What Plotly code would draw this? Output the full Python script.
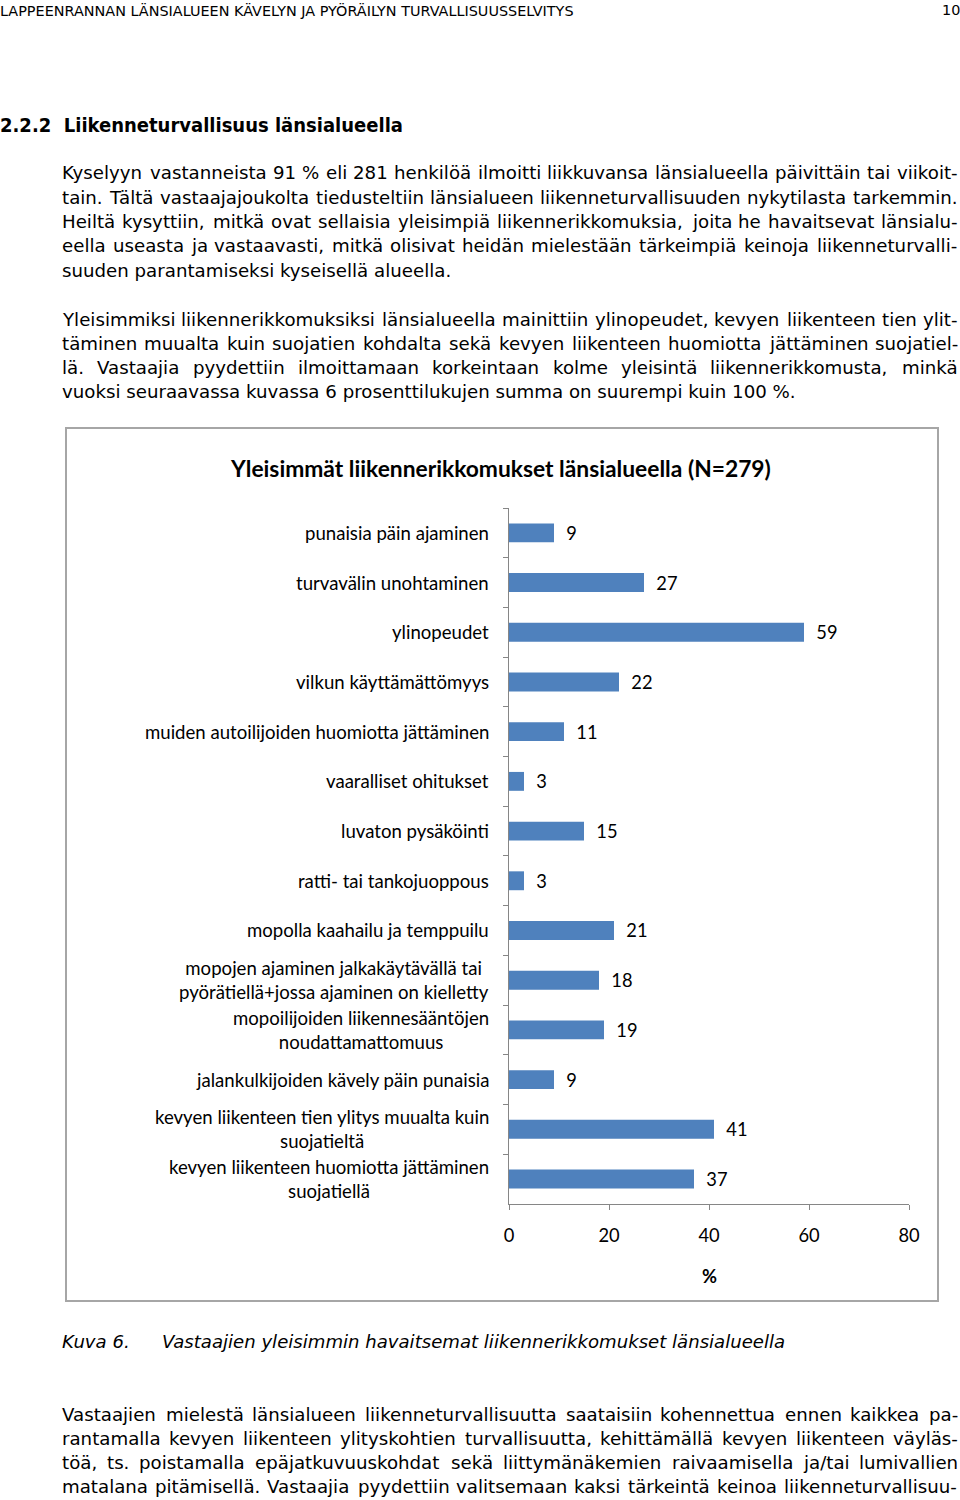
import plotly.graph_objects as go

# ---------------- data ----------------
categories = [
    "punaisia päin ajaminen",
    "turvavälin unohtaminen",
    "ylinopeudet",
    "vilkun käyttämättömyys",
    "muiden autoilijoiden huomiotta jättäminen",
    "vaaralliset ohitukset",
    "luvaton pysäköinti",
    "ratti- tai tankojuoppous",
    "mopolla kaahailu ja temppuilu",
    "mopojen ajaminen jalkakäytävällä tai<br>pyörätiellä+jossa ajaminen on kielletty",
    "mopoilijoiden liikennesääntöjen<br>noudattamattomuus",
    "jalankulkijoiden kävely päin punaisia",
    "kevyen liikenteen tien ylitys muualta kuin<br>suojatieltä",
    "kevyen liikenteen huomiotta jättäminen<br>suojatiellä",
]
values = [9, 27, 59, 22, 11, 3, 15, 3, 21, 18, 19, 9, 41, 37]
x_ticks = [0, 20, 40, 60, 80]

chart_title = "Yleisimmät liikennerikkomukset länsialueella (N=279)"
x_title = "%"

header_left = "LAPPEENRANNAN LÄNSIALUEEN KÄVELYN JA PYÖRÄILYN TURVALLISUUSSELVITYS"
header_right = "10"
heading = "2.2.2  Liikenneturvallisuus länsialueella"

para1 = [
    "Kyselyyn vastanneista 91 % eli 281 henkilöä ilmoitti liikkuvansa länsialueella päivittäin tai viikoit-",
    "tain. Tältä vastaajajoukolta tiedusteltiin länsialueen liikenneturvallisuuden nykytilasta tarkemmin.",
    "Heiltä kysyttiin, mitkä ovat sellaisia yleisimpiä liikennerikkomuksia, joita he havaitsevat länsialu-",
    "eella useasta ja vastaavasti, mitkä olisivat heidän mielestään tärkeimpiä keinoja liikenneturvalli-",
    "suuden parantamiseksi kyseisellä alueella.",
]
para2 = [
    "Yleisimmiksi liikennerikkomuksiksi länsialueella mainittiin ylinopeudet, kevyen liikenteen tien ylit-",
    "täminen muualta kuin suojatien kohdalta sekä kevyen liikenteen huomiotta jättäminen suojatiel-",
    "lä. Vastaajia pyydettiin ilmoittamaan korkeintaan kolme yleisintä liikennerikkomusta, minkä",
    "vuoksi seuraavassa kuvassa 6 prosenttilukujen summa on suurempi kuin 100 %.",
]
caption_num = "Kuva 6."
caption_text = "Vastaajien yleisimmin havaitsemat liikennerikkomukset länsialueella"
para3 = [
    "Vastaajien mielestä länsialueen liikenneturvallisuutta saataisiin kohennettua ennen kaikkea pa-",
    "rantamalla kevyen liikenteen ylityskohtien turvallisuutta, kehittämällä kevyen liikenteen väyläs-",
    "töä, ts. poistamalla epäjatkuvuuskohdat sekä liittymänäkemien raivaamisella ja/tai lumivallien",
    "matalana pitämisellä. Vastaajia pyydettiin valitsemaan kaksi tärkeintä keinoa liikenneturvallisuu-",
]

# ---------------- layout helpers ----------------
W, H = 960, 1500
X_OFF, X_SPAN = 5.0, 944.0   # observed horizontal mapping of paper coords in the capture
def px(x):
    return (x - X_OFF) / X_SPAN
def py(y):
    return 1 - y / H

CHART_FONT = "Lato, Calibri, Carlito, sans-serif"
BODY_FONT = "DejaVu Sans, Verdana, sans-serif"
COND_FONT = "DejaVu Sans Condensed, Tahoma, sans-serif"
BODY_SIZE = 18.2

# approximate DejaVu Sans advance widths (units per em = 2048), used to justify lines
ADV = {
    " ": 651, ",": 651, ".": 651, "-": 739, "/": 690, "%": 1946, "+": 1716, "=": 1716,
    "(": 799, ")": 799,
    "A": 1401, "B": 1405, "C": 1430, "D": 1577, "E": 1294, "F": 1178, "G": 1587, "H": 1540,
    "I": 604, "J": 604, "K": 1343, "L": 1141, "M": 1767, "N": 1532, "O": 1612, "P": 1235,
    "R": 1423, "S": 1300, "T": 1251, "U": 1499, "V": 1401, "W": 2025, "Y": 1251,
    "a": 1255, "b": 1300, "c": 1126, "d": 1300, "e": 1260, "f": 721, "g": 1300, "h": 1298,
    "i": 569, "j": 569, "k": 1186, "l": 569, "m": 1995, "n": 1298, "o": 1253, "p": 1300,
    "q": 1300, "r": 842, "s": 1067, "t": 803, "u": 1298, "v": 1212, "w": 1675, "x": 1212,
    "y": 1212, "z": 1075, "ä": 1255, "ö": 1253, "Ä": 1401, "Ö": 1612,
}
for d in "0123456789":
    ADV[d] = 1303

def text_w(s, size):
    return sum(ADV.get(ch, 1250) for ch in s) / 2048 * size

fig = go.Figure(
    go.Bar(
        x=values,
        y=categories,
        orientation="h",
        marker=dict(color="#4F81BD", line=dict(width=0)),
        text=values,
        texttemplate="  %{x}",
        textposition="outside",
        constraintext="none",
        textfont=dict(family=CHART_FONT, size=18.3, color="#000000"),
        cliponaxis=False,
        hoverinfo="x+y",
    )
)

annotations = []

# category labels (centered multi-line, right-anchored)
for c in categories:
    annotations.append(dict(
        x=px(491), xref="paper", xanchor="right",
        y=c, yref="y", yanchor="middle",
        text=c, showarrow=False, align="center",
        font=dict(family=CHART_FONT, size=18.6, color="#000000"),
    ))

# chart title and axis title
annotations.append(dict(
    x=px(500), y=py(468), xref="paper", yref="paper",
    xanchor="center", yanchor="middle", showarrow=False,
    text="<b>" + chart_title + "</b>",
    font=dict(family=CHART_FONT, size=22.8, color="#000000"),
))
annotations.append(dict(
    x=px(709), y=py(1276), xref="paper", yref="paper",
    xanchor="center", yanchor="middle", showarrow=False,
    text="<b>" + x_title + "</b>",
    font=dict(family=CHART_FONT, size=18.3, color="#000000"),
))

# page header
annotations.append(dict(
    x=px(-2), y=py(10), xref="paper", yref="paper", xanchor="left", yanchor="middle",
    showarrow=False, text=header_left,
    font=dict(family=BODY_FONT, size=14.4, color="#000000"),
))
annotations.append(dict(
    x=px(962), y=py(10), xref="paper", yref="paper", xanchor="right", yanchor="middle",
    showarrow=False, text=header_right,
    font=dict(family=BODY_FONT, size=14.4, color="#000000"),
))
annotations.append(dict(
    x=px(-2), y=py(125), xref="paper", yref="paper", xanchor="left", yanchor="middle",
    showarrow=False, text="<b>" + heading + "</b>",
    font=dict(family=COND_FONT, size=20, color="#000000"),
))

LEFT, RIGHT = 62, 958
PAD = 2  # annotation border + pad offset

def add_word(x_left, y, t):
    annotations.append(dict(
        x=px(x_left - PAD), y=py(y), xref="paper", yref="paper",
        xanchor="left", yanchor="middle", showarrow=False, text=t,
        font=dict(family=BODY_FONT, size=BODY_SIZE, color="#000000"),
    ))

def add_paragraph(lines, y0, justify_last=False, step=24.3):
    n = len(lines)
    for i, line in enumerate(lines):
        y = y0 + i * step
        is_last = (i == n - 1)
        if is_last and not justify_last:
            add_word(LEFT, y, line)
            continue
        words = line.split(" ")
        widths = [text_w(w, BODY_SIZE) for w in words]
        gaps = len(words) - 1
        space = (RIGHT - LEFT - sum(widths)) / gaps if gaps else 0
        x = LEFT
        for w, wd in zip(words, widths):
            add_word(x, y, w)
            x += wd + space

add_paragraph(para1, 173)
add_paragraph(para2, 319)
add_paragraph(para3, 1414, justify_last=True)

annotations.append(dict(
    x=px(62 - PAD), y=py(1341), xref="paper", yref="paper", xanchor="left", yanchor="middle",
    showarrow=False, text="<i>" + caption_num + "</i>",
    font=dict(family=BODY_FONT, size=18.1, color="#000000"),
))
annotations.append(dict(
    x=px(162 - PAD), y=py(1341), xref="paper", yref="paper", xanchor="left", yanchor="middle",
    showarrow=False, text="<i>" + caption_text + "</i>",
    font=dict(family=BODY_FONT, size=18.1, color="#000000"),
))

shapes = [dict(
    type="rect", xref="paper", yref="paper",
    x0=px(66), x1=px(938), y0=py(1301), y1=py(428),
    line=dict(color="#A6A6A6", width=2), fillcolor="rgba(0,0,0,0)",
)]

fig.update_layout(
    width=W, height=H,
    autosize=False,
    margin=dict(l=0, r=0, t=0, b=0),
    paper_bgcolor="white", plot_bgcolor="white",
    showlegend=False,
    bargap=0.62,
    annotations=annotations,
    shapes=shapes,
    xaxis=dict(
        domain=[px(509), px(909)],
        range=[0, 80],
        tickvals=x_ticks,
        ticks="outside", ticklen=5, tickcolor="#868686",
        showline=True, linecolor="#868686", linewidth=1,
        showgrid=False, zeroline=False,
        tickfont=dict(family=CHART_FONT, size=18.3, color="#000000"),
        ticklabelstandoff=10,
        fixedrange=True,
    ),
    yaxis=dict(
        domain=[py(1204), py(508)],
        autorange="reversed",
        type="category",
        showticklabels=False,
        tickson="boundaries",
        ticks="outside", ticklen=5, tickcolor="#868686",
        showline=True, linecolor="#868686", linewidth=1,
        showgrid=False, zeroline=False,
        fixedrange=True,
    ),
)

fig.write_html(
    "out.html",
    config={"responsive": False, "displayModeBar": False},
    post_script=(
        "document.body.style.margin='0';"
        "document.body.style.padding='0';"
        "document.documentElement.style.overflow='hidden';"
        "document.body.style.overflow='hidden';"
    ),
)
